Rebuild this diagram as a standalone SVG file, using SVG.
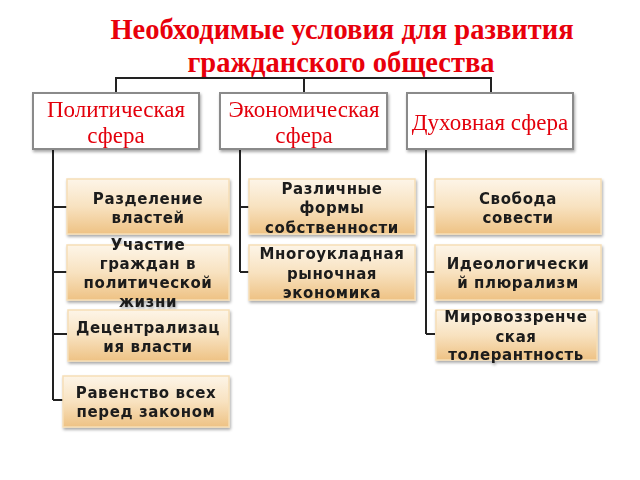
<svg xmlns="http://www.w3.org/2000/svg" width="640" height="480" viewBox="0 0 640 480">
<defs>
<linearGradient id="tan" x1="0" y1="0" x2="0" y2="1">
<stop offset="0" stop-color="#fdf5e8"/>
<stop offset="0.5" stop-color="#f8e2c0"/>
<stop offset="1" stop-color="#eec284"/>
</linearGradient>
<filter id="sh" x="-10%" y="-10%" width="125%" height="130%">
<feGaussianBlur in="SourceAlpha" stdDeviation="1.5"/>
<feOffset dx="1" dy="2" result="b"/>
<feComponentTransfer><feFuncA type="linear" slope="0.35"/></feComponentTransfer>
<feMerge><feMergeNode/><feMergeNode in="SourceGraphic"/></feMerge>
</filter>
</defs>
<style>
.title{font-family:"Liberation Serif","Times New Roman",serif;font-weight:bold;font-size:28.5px;fill:#e8000b;text-anchor:middle}
.hbox{fill:#ffffff;stroke:#8a8a8a;stroke-width:2}
.htxt{font-family:"Liberation Serif","Times New Roman",serif;font-size:23px;fill:#e3000b;text-anchor:middle}
.cbox{fill:url(#tan);stroke:#f6deb6;stroke-width:1.5}
.ctxt{font-family:"DejaVu Sans","Verdana",sans-serif;font-weight:bold;font-size:15px;letter-spacing:0.6px;fill:#1a1a1a;text-anchor:middle}
.ln{fill:none;stroke:#222;stroke-width:2}
</style>
<rect width="640" height="480" fill="#ffffff"/>
<g id="title">
<text class="title" x="342" y="39">Необходимые условия для развития</text>
<text class="title" x="341" y="72">гражданского общества</text>
</g>
<g id="connectors">
<path class="ln" d="M116,93 V78 H491 V93 M304,78 V93"/>
<path class="ln" d="M53,149 V400 M53,207 H67 M53,272 H67 M53,334 H67 M53,400 H63"/>
<path class="ln" d="M240,149 V272 M240,207 H249 M240,272 H249"/>
<path class="ln" d="M426,149 V334 M426,207 H435 M426,272 H435 M426,334 H435"/>
</g>
<g id="political" filter="url(#sh)">
<rect class="hbox" x="33" y="93" width="166" height="56"/>
<text class="htxt" x="116" y="117">Политическая</text>
<text class="htxt" x="116" y="143">сфера</text>
</g>
<g id="economic" filter="url(#sh)">
<rect class="hbox" x="220" y="93" width="167" height="56"/>
<text class="htxt" x="304" y="117">Экономическая</text>
<text class="htxt" x="304" y="143">сфера</text>
</g>
<g id="spiritual" filter="url(#sh)">
<rect class="hbox" x="407" y="93" width="166" height="56"/>
<text class="htxt" x="490" y="130">Духовная сфера</text>
</g>
<g id="separation" filter="url(#sh)">
<rect class="cbox" x="67" y="179" width="162" height="55"/>
<text class="ctxt" x="148" y="204">Разделение</text>
<text class="ctxt" x="148" y="223">властей</text>
</g>
<g id="participation" filter="url(#sh)">
<rect class="cbox" x="67" y="245" width="162" height="55"/>
<text class="ctxt" x="148" y="250">Участие</text>
<text class="ctxt" x="148" y="269">граждан в</text>
<text class="ctxt" x="148" y="288">политической</text>
<text class="ctxt" x="148" y="307">жизни</text>
</g>
<g id="decentral" filter="url(#sh)">
<rect class="cbox" x="68" y="310" width="161" height="51"/>
<text class="ctxt" x="148" y="333">Децентрализац</text>
<text class="ctxt" x="148" y="352">ия власти</text>
</g>
<g id="equality" filter="url(#sh)">
<rect class="cbox" x="63" y="376" width="166" height="51"/>
<text class="ctxt" x="146" y="398">Равенство всех</text>
<text class="ctxt" x="146" y="417">перед законом</text>
</g>
<g id="property" filter="url(#sh)">
<rect class="cbox" x="249" y="179" width="166" height="55"/>
<text class="ctxt" x="332" y="194">Различные</text>
<text class="ctxt" x="332" y="213">формы</text>
<text class="ctxt" x="332" y="233">собственности</text>
</g>
<g id="market" filter="url(#sh)">
<rect class="cbox" x="249" y="245" width="166" height="55"/>
<text class="ctxt" x="332" y="259">Многоукладная</text>
<text class="ctxt" x="332" y="279">рыночная</text>
<text class="ctxt" x="332" y="298">экономика</text>
</g>
<g id="conscience" filter="url(#sh)">
<rect class="cbox" x="435" y="179" width="166" height="55"/>
<text class="ctxt" x="518" y="204">Свобода</text>
<text class="ctxt" x="518" y="223">совести</text>
</g>
<g id="pluralism" filter="url(#sh)">
<rect class="cbox" x="435" y="245" width="166" height="55"/>
<text class="ctxt" x="518" y="269">Идеологически</text>
<text class="ctxt" x="518" y="288">й плюрализм</text>
</g>
<g id="tolerance" filter="url(#sh)">
<rect class="cbox" x="436" y="310" width="161" height="50"/>
<text class="ctxt" x="516" y="322">Мировоззренче</text>
<text class="ctxt" x="516" y="342">ская</text>
<text class="ctxt" x="516" y="360">толерантность</text>
</g>
</svg>
